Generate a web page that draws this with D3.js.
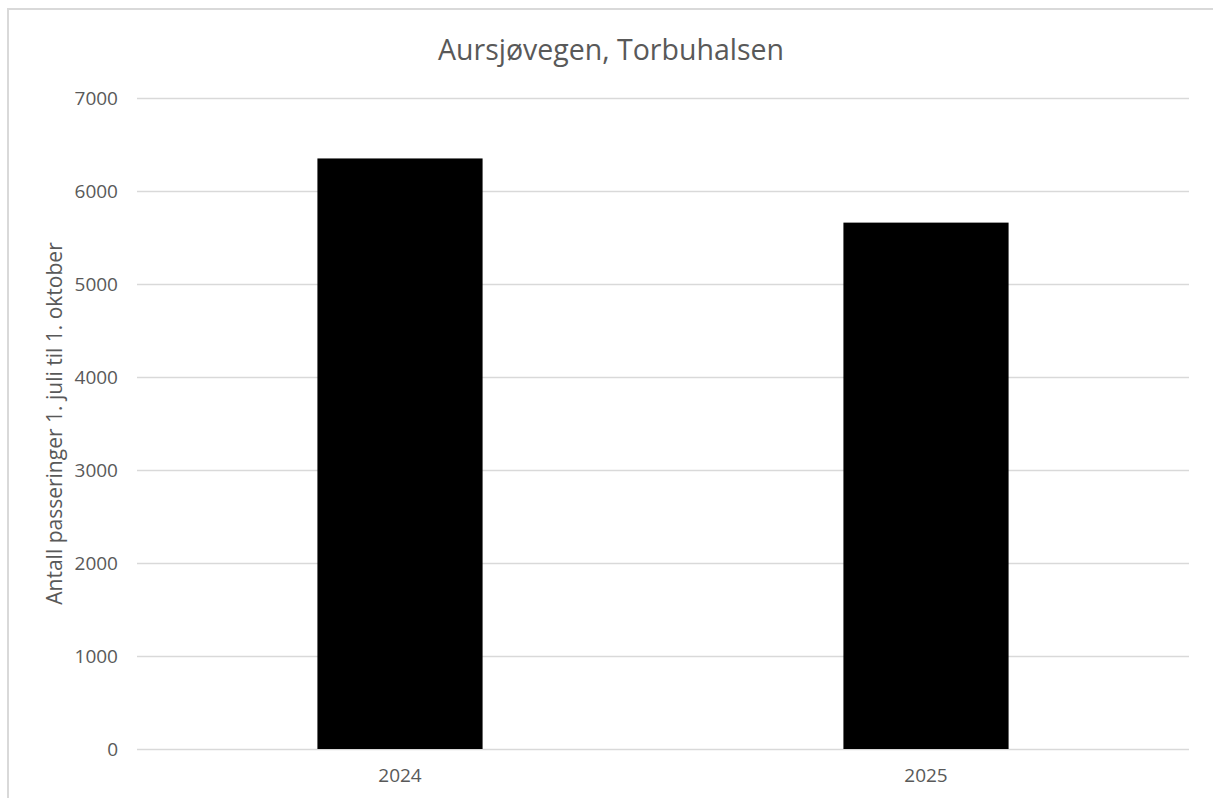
<!DOCTYPE html>
<html>
<head>
<meta charset="utf-8">
<script src="https://cdn.jsdelivr.net/npm/d3@7"></script>
<style>
  html, body { margin: 0; padding: 0; background: #fff; overflow: hidden; }
  svg { display: block; }
  text { font-family: "Open Sans", Lato, sans-serif; fill: #595959; }
</style>
</head>
<body>
<svg id="chart" width="1213" height="798"></svg>
<script>
// Passages per season (1 July – 1 October)
const categories = ["2024", "2025"];
const passages = [6350, 5660];
const yTicks = [0, 1000, 2000, 3000, 4000, 5000, 6000, 7000];
const chartTitle = "Aursjøvegen, Torbuhalsen";
const yTitle = "Antall passeringer 1. juli til 1. oktober";

const svg = d3.select("#chart");
const W = 1213, H = 798;
const plot = { left: 137, right: 1189, top: 98, bottom: 749 };

// chart frame: only the top and left edges fall inside the canvas
svg.append("path")
  .attr("d", `M8,${H} V9 H${W}`)
  .attr("fill", "none")
  .attr("stroke", "#d9d9d9").attr("stroke-width", 2);

const x = d3.scaleBand()
  .domain(categories)
  .range([plot.left, plot.right])
  .paddingInner(0.686)
  .paddingOuter(0.343);

const y = d3.scaleLinear()
  .domain([0, 7000])
  .range([plot.bottom, plot.top]);

// gridlines + y labels
const yAxis = d3.axisLeft(y)
  .tickValues(yTicks)
  .tickSize(-(plot.right - plot.left))
  .tickPadding(19)
  .tickFormat(d3.format("d"));

const gy = svg.append("g")
  .attr("transform", `translate(${plot.left},0)`)
  .call(yAxis);
gy.select(".domain").remove();
gy.selectAll(".tick line").attr("stroke", "#d9d9d9").attr("stroke-width", 1.5);
gy.selectAll(".tick text")
  .attr("fill", "#595959")
  .style("font-size", "19px");

// bars
svg.append("g").selectAll("rect")
  .data(categories)
  .join("rect")
  .attr("x", d => x(d))
  .attr("width", x.bandwidth())
  .attr("y", (d, i) => y(passages[i]))
  .attr("height", (d, i) => y(0) - y(passages[i]))
  .attr("fill", "#000");

// x labels
const xAxis = d3.axisBottom(x).tickSize(0).tickPadding(20);
const gx = svg.append("g")
  .attr("transform", `translate(0,${plot.bottom})`)
  .call(xAxis);
gx.select(".domain").remove();
gx.selectAll(".tick text")
  .attr("fill", "#595959")
  .style("font-size", "19px");

// title
svg.append("text")
  .attr("x", 611).attr("y", 60)
  .attr("text-anchor", "middle")
  .style("font-size", "28.5px")
  .text(chartTitle);

// y axis title
svg.append("text")
  .attr("transform", `translate(62,${(plot.top + plot.bottom) / 2}) rotate(-90)`)
  .attr("text-anchor", "middle")
  .style("font-size", "21px")
  .text(yTitle);
</script>
</body>
</html>
